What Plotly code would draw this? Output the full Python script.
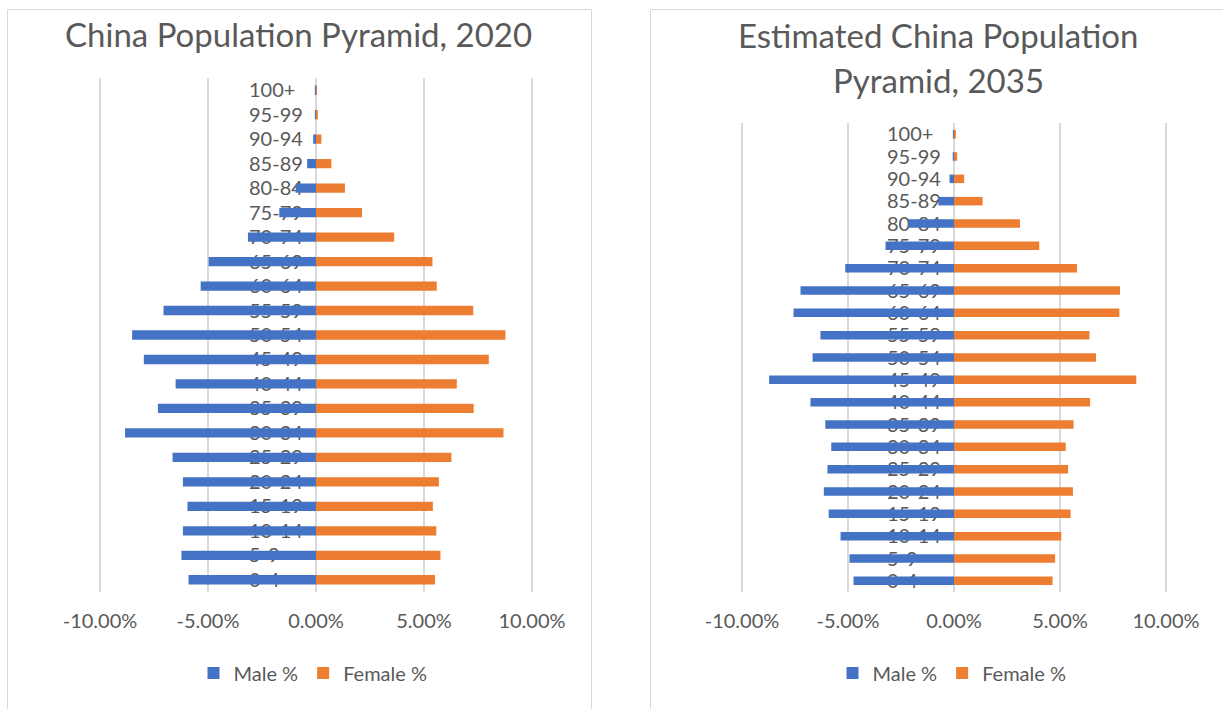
import plotly.graph_objects as go

# ---------------- data ----------------
age_groups = ["0-4", "5-9", "10-14", "15-19", "20-24", "25-29", "30-34", "35-39",
              "40-44", "45-49", "50-54", "55-59", "60-64", "65-69", "70-74", "75-79",
              "80-84", "85-89", "90-94", "95-99", "100+"]

male_2020 = [-5.90, -6.23, -6.16, -5.95, -6.16, -6.64, -8.84, -7.32, -6.50, -7.97, -8.51,
             -7.06, -5.34, -4.97, -3.15, -1.70, -0.94, -0.41, -0.13, -0.02, -0.01]
female_2020 = [5.51, 5.76, 5.57, 5.41, 5.69, 6.27, 8.68, 7.30, 6.52, 8.00, 8.77,
               7.28, 5.59, 5.39, 3.62, 2.13, 1.34, 0.71, 0.25, 0.07, 0.02]

male_2035 = [-4.74, -4.93, -5.35, -5.91, -6.14, -5.97, -5.79, -6.07, -6.77, -8.72, -6.67,
             -6.30, -7.57, -7.24, -5.13, -3.23, -2.16, -0.74, -0.21, -0.06, -0.01]
female_2035 = [4.65, 4.77, 5.06, 5.50, 5.61, 5.38, 5.27, 5.64, 6.42, 8.60, 6.70,
               6.39, 7.80, 7.83, 5.80, 4.02, 3.11, 1.35, 0.48, 0.15, 0.05]

tick_vals = [-10, -5, 0, 5, 10]
tick_labels = ["-10.00%", "-5.00%", "0.00%", "5.00%", "10.00%"]

series_names = ["Male %", "Female %"]
title_2020 = "China Population Pyramid, 2020"
title_2035_lines = ["Estimated China Population", "Pyramid, 2035"]

# ---------------- styling ----------------
W, H = 1223, 709
BLUE = "#4472C4"
ORANGE = "#ED7D31"
TXT = "#595959"
GRID = "#D9D9D9"
FONT = "Lato"
PAD = 0.1  # small range padding so the edge gridlines are drawn


def fx(px):
    return px / W


def fy(py):
    return 1 - py / H


def x_domain(px_left, px_right):
    per_unit = (px_right - px_left) / 20.0
    return [fx(px_left - PAD * per_unit), fx(px_right + PAD * per_unit)]


fig = go.Figure()

# left chart
fig.add_trace(go.Bar(y=age_groups, x=male_2020, orientation="h", name=series_names[0],
                     marker=dict(color=BLUE, line=dict(width=0)), xaxis="x", yaxis="y",
                     legend="legend"))
fig.add_trace(go.Bar(y=age_groups, x=female_2020, orientation="h", name=series_names[1],
                     marker=dict(color=ORANGE, line=dict(width=0)), xaxis="x", yaxis="y",
                     legend="legend"))
# right chart
fig.add_trace(go.Bar(y=age_groups, x=male_2035, orientation="h", name=series_names[0],
                     marker=dict(color=BLUE, line=dict(width=0)), xaxis="x2", yaxis="y2",
                     legend="legend2"))
fig.add_trace(go.Bar(y=age_groups, x=female_2035, orientation="h", name=series_names[1],
                     marker=dict(color=ORANGE, line=dict(width=0)), xaxis="x2", yaxis="y2",
                     legend="legend2"))

xaxis_common = dict(
    range=[-10 - PAD, 10 + PAD], tickmode="array", tickvals=tick_vals, ticktext=tick_labels,
    showgrid=True, gridcolor=GRID, gridwidth=2, zeroline=False,
    showline=False, ticks="", ticklabelstandoff=15, automargin=False,
    tickfont=dict(family=FONT, size=20, color=TXT), fixedrange=True,
)
yaxis_common = dict(
    type="category", categoryorder="array", categoryarray=age_groups,
    range=[-0.5, len(age_groups) - 0.5],
    tickmode="linear", tick0=0, dtick=1,
    showgrid=False, zeroline=False, showline=False, ticks="",
    side="right", anchor="free", layer="below traces", automargin=False,
    tickfont=dict(family=FONT, size=20, color=TXT), fixedrange=True,
)

fig.update_layout(
    width=W, height=H,
    margin=dict(l=0, r=0, t=0, b=0, pad=0, autoexpand=False),
    paper_bgcolor="white", plot_bgcolor="white",
    barmode="relative", bargap=0.62,
    showlegend=True,
    xaxis=dict(domain=x_domain(100, 532), anchor="y", **xaxis_common),
    yaxis=dict(domain=[fy(592), fy(78)], position=fx(248), **yaxis_common),
    xaxis2=dict(domain=x_domain(742, 1166), anchor="y2", **xaxis_common),
    yaxis2=dict(domain=[fy(592), fy(123)], position=fx(886), **yaxis_common),
    legend=dict(orientation="h", x=fx(313), xanchor="center", y=fy(673), yanchor="middle",
                font=dict(family=FONT, size=20, color=TXT), bgcolor="rgba(0,0,0,0)"),
    legend2=dict(orientation="h", x=fx(952), xanchor="center", y=fy(673), yanchor="middle",
                 font=dict(family=FONT, size=20, color=TXT), bgcolor="rgba(0,0,0,0)"),
    shapes=[
        dict(type="rect", xref="paper", yref="paper", x0=fx(7.5), x1=fx(591.5),
             y0=fy(720), y1=fy(9.5), line=dict(color=GRID, width=1), layer="below"),
        dict(type="rect", xref="paper", yref="paper", x0=fx(650.5), x1=fx(1240),
             y0=fy(720), y1=fy(9.5), line=dict(color=GRID, width=1), layer="below"),
    ],
    annotations=[
        dict(text=title_2020, xref="paper", yref="paper", x=fx(298), y=fy(34),
             xanchor="center", yanchor="middle", showarrow=False,
             font=dict(family=FONT, size=33, color=TXT)),
        dict(text=title_2035_lines[0], xref="paper", yref="paper", x=fx(938), y=fy(35),
             xanchor="center", yanchor="middle", showarrow=False,
             font=dict(family=FONT, size=33, color=TXT)),
        dict(text=title_2035_lines[1], xref="paper", yref="paper", x=fx(938), y=fy(80),
             xanchor="center", yanchor="middle", showarrow=False,
             font=dict(family=FONT, size=33, color=TXT)),
    ],
)

fig.write_html("out.html")
